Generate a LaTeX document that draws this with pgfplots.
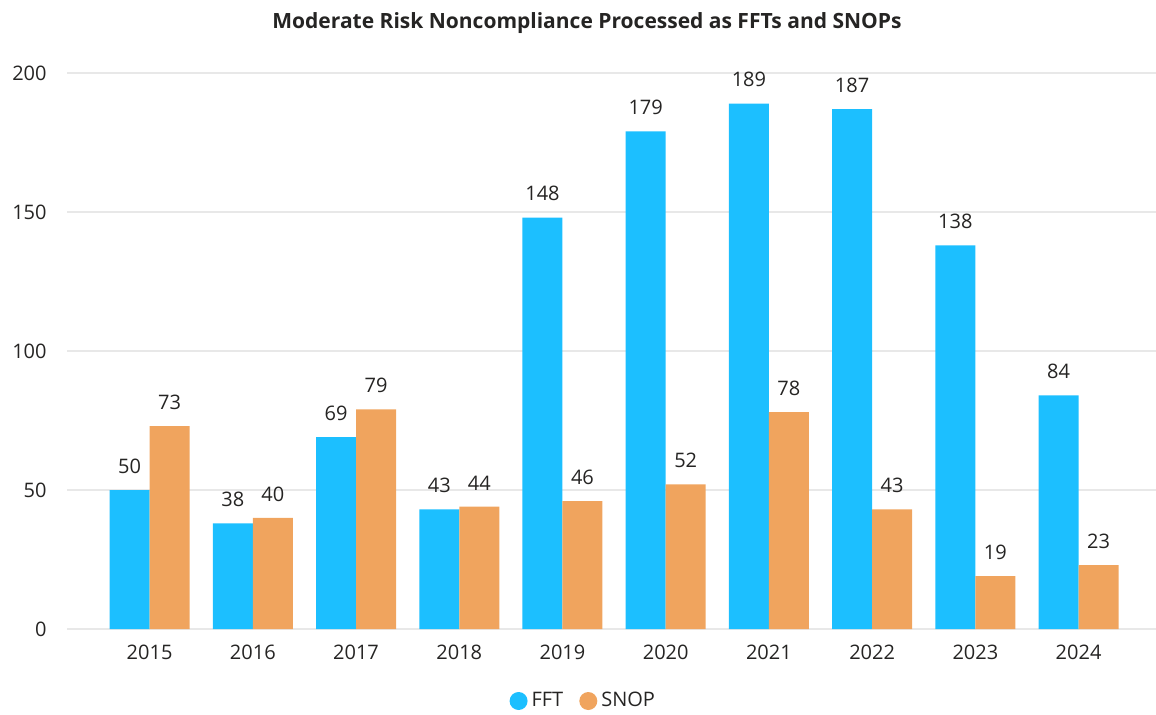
\documentclass[border=0pt]{standalone}
\usepackage{pgfplots}
\pgfplotsset{compat=1.18}
\usepackage{fontspec}
\setmainfont{Open Sans}
\definecolor{fftblue}{RGB}{28,191,255}
\definecolor{snoporange}{RGB}{240,164,94}
\definecolor{gridgray}{RGB}{232,232,232}
\definecolor{txt}{RGB}{37,36,35}
\begin{document}
\begin{tikzpicture}
\path[use as bounding box] (-33.5pt,-42.5pt) rectangle (544.5pt,314.5pt);
\begin{axis}[
  scale only axis,
  clip=false,
  width=544.5pt, height=278pt,
  xmin=-0.8, xmax=9.75,
  ymin=0, ymax=200,
  ytick={0,50,100,150,200},
  xtick={0,...,9},
  xticklabels={2015,2016,2017,2018,2019,2020,2021,2022,2023,2024},
  ybar=0pt, bar width=20pt,
  axis line style={draw=none},
  major tick length=0pt,
  ymajorgrids, grid style={gridgray, line width=1pt},
  tick label style={font=\fontsize{10}{12}\selectfont, text=txt},
  /pgf/number format/assume math mode=true,
  yticklabel style={anchor=east, inner sep=0pt, xshift=-10pt},
  xticklabel style={anchor=north, inner sep=0pt, yshift=-8pt},
  nodes near coords,
  every node near coord/.append style={anchor=south, inner sep=0pt, yshift=8pt, font=\fontsize{10}{12}\selectfont, text=txt},
  legend style={at={(0.475,-0.1295)}, anchor=center, draw=none, fill=none, legend columns=2, font=\fontsize{10}{12}\selectfont, text=txt,
    /tikz/every even column/.append style={column sep=6pt}},
  legend image code/.code={\fill[#1] (0pt,0pt) circle (4.5pt);},
]
\addplot[draw=none, fill=fftblue] coordinates {(0,50) (1,38) (2,69) (3,43) (4,148) (5,179) (6,189) (7,187) (8,138) (9,84)};
\addplot[draw=none, fill=snoporange] coordinates {(0,73) (1,40) (2,79) (3,44) (4,46) (5,52) (6,78) (7,43) (8,19) (9,23)};
\legend{FFT,SNOP}
\node[font=\bfseries\fontsize{10.5}{12}\selectfont, text=txt] at (axis description cs:0.4775,1.089) {Moderate Risk Noncompliance Processed as FFTs and SNOPs};
\end{axis}
\end{tikzpicture}
\end{document}
